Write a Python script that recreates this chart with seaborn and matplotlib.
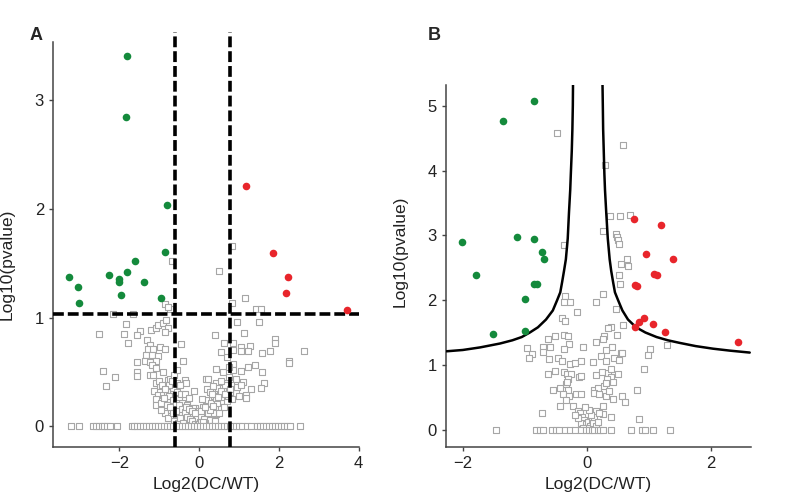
import numpy as np
import pandas as pd
import seaborn as sns
import matplotlib
matplotlib.use("Agg")
import matplotlib.pyplot as plt

# ---------------- data: panel A ----------------
a_down_x = [-1.80, -1.83, -0.80, -0.85, -3.25, -3.03, -3.00, -2.25, -2.00, -2.00,
            -1.80, -1.60, -1.95, -1.38, -0.95]
a_down_y = [3.40, 2.84, 2.03, 1.60, 1.37, 1.28, 1.13, 1.39, 1.35, 1.33,
            1.42, 1.52, 1.21, 1.33, 1.18]
a_up_x = [1.17, 1.84, 2.23, 2.17, 3.70]
a_up_y = [2.21, 1.59, 1.37, 1.23, 1.07]

a_gray_x = [-0.68, 0.50, 0.83, 0.83, 1.15, -0.86, -0.73, 1.43, 1.54, 1.50, 0.96,
            -2.52, -2.17, -1.83, -1.65, -1.88, -1.77, -1.48, -1.55, -1.21, -1.08, -1.02,
            -0.90, -0.82, -0.77, -0.86, -0.77,
            -1.30, -1.23, -1.27, -1.15, -0.98, -0.86, -1.32, -1.19, -1.03, -1.36, -1.23,
            -1.07, -1.19, -1.08, -1.55, -1.55, -1.55, -1.23, -1.15, -0.90, -2.42, -2.11,
            -2.33, -0.79, -0.72, -1.08, -0.98, -0.86, -1.13, -1.02, -0.90, -1.08, -1.08,
            -0.90, -0.82, -0.86, -0.73, -0.40, -0.46, -0.36, -0.32, -0.13, -0.11, 0.18, 0.20,
            1.13, 0.39, 0.63, 0.85, 1.04, 1.27, 0.54, 0.69, 0.84, 1.04, 1.23, 1.58, 1.78,
            1.89, 1.89, 2.25, 2.25, 2.63, 0.43, 0.60, 0.85, 1.04, 1.23, 1.39, 1.58, 0.23,
            0.43, 0.93, 1.10, 1.62, 1.56, 1.29, 1.17, 1.17, 0.93, 0.77, 0.60, 0.48, 0.35,
            0.27, 0.18, 0.10, -0.03, -0.15, 0.14, 0.43, 0.56, 0.69,
            -0.70, -0.65, -0.60, -0.55, -0.50, -0.45, -0.62, -0.52, -0.42, -0.38, -0.30,
            -0.28, -0.20, -0.22, -0.12, -0.08, -0.05, 0.02, 0.05, -0.70, -0.58, -0.48,
            -0.40, -0.33, -0.15, -0.75, -0.68, -0.56, -0.47, -0.35, -0.25, -0.78, -0.64,
            -0.54, -0.95, -0.96, -0.80, -0.62, -0.55, 0.08, 0.30, 0.38, 0.45, 0.52, 0.60,
            0.68, 0.75, 0.80, 0.72, 0.62, 0.50, 0.35, 0.25, 0.15, 0.40, 0.86, 0.75, 0.82,
            0.95, 1.05, 1.00,
            -1.00, -0.92, -0.85, -0.76, -0.66, -0.58, -0.50, -0.44, -0.36, -0.30, -0.24,
            -0.18, -0.10, -0.04, 0.00, 0.06, 0.12, 0.22, 0.28, 0.36, 0.42, 0.48, 0.55,
            0.64, -0.88, -0.80, -0.72, -0.66, -0.58, -0.48, -0.40, -0.34, -0.26, -0.18,
            -0.10, 0.04, 0.10, 0.16, 0.32, 0.56, 0.66, 0.78]
a_gray_y = [1.52, 1.43, 1.66, 1.13, 1.18, 1.12, 1.08, 1.08, 1.08, 0.96, 0.96,
            0.85, 1.03, 0.94, 1.03, 0.85, 0.77, 0.88, 0.84, 0.89, 0.90, 0.93,
            0.95, 0.98, 0.90, 0.87, 1.10,
            0.79, 0.75, 0.71, 0.71, 0.73, 0.71, 0.66, 0.66, 0.65, 0.60, 0.59,
            0.60, 0.56, 0.54, 0.59, 0.50, 0.46, 0.47, 0.47, 0.50, 0.51, 0.45,
            0.37, 0.43, 0.44, 0.40, 0.37, 0.36, 0.33, 0.29, 0.29, 0.25, 0.20,
            0.21, 0.17, 0.12, 0.24, 0.60, 0.76, 0.43, 0.40, 0.33, 0.17, 0.44, 0.34,
            0.86, 0.84, 0.77, 0.77, 0.73, 0.74, 0.68, 0.64, 0.70, 0.69, 0.69, 0.67, 0.69,
            0.80, 0.77, 0.60, 0.58, 0.69, 0.53, 0.50, 0.57, 0.51, 0.55, 0.56, 0.50, 0.44,
            0.40, 0.44, 0.41, 0.40, 0.35, 0.34, 0.29, 0.26, 0.31, 0.32, 0.27, 0.35, 0.37,
            0.32, 0.24, 0.18, 0.14, 0.17, 0.09, 0.11, 0.18, 0.23,
            0.30, 0.35, 0.28, 0.32, 0.25, 0.30, 0.20, 0.18, 0.22, 0.15, 0.20,
            0.12, 0.10, 0.05, 0.06, 0.03, 0.08, 0.04, 0.10, 0.15, 0.10, 0.12,
            0.08, 0.05, 0.02, 0.38, 0.42, 0.40, 0.38, 0.30, 0.26, 0.08, 0.05,
            0.03, 0.22, 0.15, 0.32, 0.47, 0.52, 0.25, 0.22, 0.28, 0.22, 0.30, 0.35,
            0.40, 0.45, 0.38, 0.28, 0.18, 0.12, 0.12, 0.06, 0.03, 0.05, 0.52, 0.55, 0.25,
            0.36, 0.38, 0.28,
            0.42, 0.38, 0.34, 0.28, 0.24, 0.22, 0.20, 0.16, 0.13, 0.09, 0.07,
            0.05, 0.02, 0.01, 0.02, 0.04, 0.07, 0.12, 0.15, 0.19, 0.26, 0.27, 0.33,
            0.38, 0.26, 0.20, 0.18, 0.12, 0.14, 0.08, 0.03, 0.18, 0.16, 0.14,
            0.12, 0.14, 0.04, 0.18, 0.30, 0.42, 0.30, 0.34]
a_zero_x = [-3.22, -3.00, -2.66, -2.58, -2.50, -2.44, -2.38, -2.30, -2.23, -2.05,
            -1.69, -1.62, -1.55, -1.47, -1.40, -1.33, -1.25, -1.18, -1.10, -1.02,
            -0.95, -0.88, -0.80, -0.72, -0.65, -0.58, -0.50, -0.43, -0.35, -0.28,
            -0.20, -0.12, -0.05, 0.03, 0.10, 0.18, 0.25, 0.33, 0.40, 0.48, 0.55,
            0.62, 0.70, 0.78, 0.85, 0.93, 1.00, 1.08, 1.20, 1.30, 1.45, 1.52, 1.60,
            1.68, 1.75, 1.82, 1.90, 1.97, 2.05, 2.12, 2.20, 2.27, 2.52]
a_fc_lo, a_fc_hi, a_p_cut = -0.60, 0.78, 1.03

# ---------------- data: panel B ----------------
b_down_x = [-0.85, -1.35, -2.02, -1.13, -0.85, -0.72, -0.69, -1.78, -0.85, -0.81,
            -1.00, -1.52, -1.00]
b_down_y = [5.08, 4.77, 2.90, 2.98, 2.95, 2.75, 2.63, 2.38, 2.25, 2.25,
            2.02, 1.48, 1.52]
b_up_x = [0.76, 1.19, 0.95, 1.39, 1.08, 1.13, 0.78, 0.80, 0.83, 0.91, 1.06, 1.26,
          0.77, 2.43]
b_up_y = [3.25, 3.16, 2.71, 2.64, 2.40, 2.38, 2.24, 2.22, 1.66, 1.72, 1.63, 1.50,
          1.59, 1.36]

b_gray_x = [-0.49, 0.585, 0.29, 0.365, 0.525, 0.70, 0.26, 0.47, 0.49, 0.50, 0.51,
            -0.37, 0.64, 0.55, 0.66, 0.51, 0.53, 0.25, 0.14, -0.36, -0.27, -0.37,
            -0.16, -0.40, -0.36, 0.47, 0.58, 0.39, 0.34, 0.49, 0.28, 0.26, 0.15,
            -0.37, -0.31, -0.51, -0.62, -0.29, -0.60, -0.71, -0.96, -0.37, -0.06,
            0.40, 0.30, 0.55, 0.57, 1.01, 0.99, 1.29, -0.89, -0.94, -0.71, -0.61,
            -0.47, -0.40, -0.27, -0.20, -0.10, 0.09, 0.23, 0.31, 0.43, 0.51, 0.92,
            -0.62, -0.52, -0.37, -0.32, -0.26, -0.13, -0.09, 0.15, 0.24, 0.34, 0.39,
            0.50, 0.38, -0.31, -0.33, -0.31, -0.44, -0.55, -0.39, -0.29, -0.18,
            -0.09, 0.12, 0.18, 0.28, 0.42, 0.11, 0.19, 0.31, 0.42, 0.57, 0.61, 0.81,
            -0.44, -0.33, -0.23, -0.72, -0.15, 0.26, 0.15, 0.26, 0.38, 0.83, 0.33,
            0.30, -0.32, 0.36,
            -0.12, -0.08, -0.05, -0.10, -0.02, 0.02, 0.05, 0.08, 0.10, 0.12, 0.00,
            -0.06, 0.06, -0.15, 0.14, 0.18, -0.20, 0.20, 0.03, -0.03]
b_gray_y = [4.58, 4.39, 4.08, 3.30, 3.30, 3.31, 3.06, 3.02, 2.97, 2.93, 2.87,
            2.85, 2.63, 2.55, 2.53, 2.39, 2.25, 2.09, 1.97, 2.06, 1.97, 1.97,
            1.81, 1.73, 1.67, 1.86, 1.62, 1.59, 1.57, 1.46, 1.44, 1.40, 1.36,
            1.46, 1.45, 1.44, 1.40, 1.33, 1.27, 1.28, 1.26, 1.24, 1.27,
            1.28, 1.23, 1.19, 1.18, 1.25, 1.16, 1.30, 1.17, 1.10, 1.20, 1.09,
            1.11, 1.06, 1.02, 1.03, 1.06, 1.05, 1.13, 1.06, 1.10, 1.08, 0.93,
            0.86, 0.91, 0.89, 0.86, 0.86, 0.82, 0.83, 0.84, 0.89, 0.88, 0.93,
            0.86, 0.81, 0.78, 0.70, 0.62, 0.65, 0.61, 0.55, 0.52, 0.55,
            0.55, 0.62, 0.65, 0.68, 0.73, 0.56, 0.55, 0.52, 0.47, 0.52, 0.43, 0.62,
            0.36, 0.46, 0.37, 0.25, 0.29, 0.37, 0.29, 0.24, 0.20, 0.17, 0.78,
            0.72, 0.74, 0.60,
            0.25, 0.20, 0.15, 0.10, 0.08, 0.12, 0.05, 0.15, 0.10, 0.20, 0.03,
            0.02, 0.22, 0.18, 0.05, 0.12, 0.22, 0.25, 0.30, 0.35]
b_zero_x = [-1.47, -0.82, -0.76, -0.71, -0.56, -0.50, -0.45, -0.36, -0.28, -0.20,
            -0.09, -0.02, 0.03, 0.08, 0.12, 0.17, 0.21, 0.26, 0.39, 0.71, 0.89, 0.94,
            1.06, 1.33]

# significance boundary
b_left_x = [-2.26, -2.00, -1.72, -1.40, -1.20, -1.05, -0.92, -0.79, -0.66, -0.55,
            -0.48, -0.43, -0.40, -0.37, -0.34, -0.31, -0.29, -0.27, -0.26, -0.245,
            -0.235, -0.228, -0.225]
b_left_y = [1.21, 1.23, 1.27, 1.33, 1.38, 1.43, 1.50, 1.58, 1.70, 1.84,
            2.00, 2.12, 2.28, 2.45, 2.63, 2.95, 3.35, 3.70, 3.95, 4.30,
            4.64, 5.00, 5.32]
b_right_x = [2.62, 2.30, 2.03, 1.75, 1.49, 1.30, 1.12, 0.94, 0.79, 0.66,
             0.57, 0.50, 0.45, 0.42, 0.39, 0.365, 0.335, 0.31, 0.29, 0.28,
             0.27, 0.26, 0.255, 0.25]
b_right_y = [1.19, 1.22, 1.25, 1.29, 1.34, 1.38, 1.43, 1.50, 1.58, 1.70,
             1.84, 2.00, 2.12, 2.28, 2.45, 2.63, 2.95, 3.35, 3.70, 3.95,
             4.30, 4.64, 5.00, 5.32]

GREEN = "#148a3c"
RED = "#e8252b"
GRAY = "#a6a6a6"

sns.set_style("ticks")
plt.rcParams["font.family"] = ["Liberation Sans", "DejaVu Sans"]

fig = plt.figure(figsize=(7.94, 5.03), dpi=100)
axA = fig.add_axes([0.0668, 0.111, 0.385, 0.825])
axB = fig.add_axes([0.5617, 0.111, 0.3841, 0.720])


def draw_points(ax, gx, gy, zx, dx, dy, ux, uy):
    gray = pd.DataFrame({"x": list(gx) + list(zx),
                         "y": list(gy) + [0.0] * len(zx)})
    sns.scatterplot(data=gray, x="x", y="y", ax=ax, marker="s", s=14,
                    facecolor="white", edgecolor=GRAY, linewidth=0.8, zorder=2)
    sns.scatterplot(x=dx, y=dy, ax=ax, color=GREEN, s=30, linewidth=0, zorder=4)
    sns.scatterplot(x=ux, y=uy, ax=ax, color=RED, s=30, linewidth=0, zorder=4)


def style_axis(ax):
    for side in ["top", "right"]:
        ax.spines[side].set_visible(False)
    for side in ["left", "bottom"]:
        ax.spines[side].set_color("#444444")
        ax.spines[side].set_linewidth(1.1)
    ax.tick_params(axis="both", labelsize=12, colors="#444444", labelcolor="#222222",
                   length=3, width=1)
    ax.set_xlabel("Log2(DC/WT)", fontsize=12.5, color="#222222", labelpad=4)
    ax.set_ylabel("Log10(pvalue)", fontsize=12.5, color="#222222")


# ---- panel A ----
draw_points(axA, a_gray_x, a_gray_y, a_zero_x, a_down_x, a_down_y, a_up_x, a_up_y)
for xv in [a_fc_lo, a_fc_hi]:
    axA.axvline(xv, color="black", lw=2.6, dashes=(3, 1.1), zorder=3)
axA.axhline(a_p_cut, color="black", lw=2.6, dashes=(3, 1.1), zorder=3)
axA.set_xlim(-3.66, 4.0)
axA.set_ylim(-0.19, 3.62)
axA.spines["left"].set_bounds(-0.19, 3.53)
axA.set_xticks([-2, 0, 2, 4])
axA.set_yticks([0, 1, 2, 3])
style_axis(axA)
axA.yaxis.set_label_coords(-0.125, 0.44)

# ---- panel B ----
draw_points(axB, b_gray_x, b_gray_y, b_zero_x, b_down_x, b_down_y, b_up_x, b_up_y)
curve_l = pd.DataFrame({"x": b_left_x, "y": b_left_y})
curve_r = pd.DataFrame({"x": b_right_x, "y": b_right_y})
for cv in [curve_l, curve_r]:
    sns.lineplot(data=cv, x="x", y="y", sort=False, estimator=None, ax=axB,
                 color="black", lw=1.8, zorder=3)
axB.set_xlim(-2.27, 2.64)
axB.set_ylim(-0.27, 5.32)
axB.set_xticks([-2, 0, 2])
axB.set_yticks([0, 1, 2, 3, 4, 5])
style_axis(axB)
axB.yaxis.set_label_coords(-0.125, 0.54)

fig.text(30 / 794, 1 - 35 / 503, "A", fontsize=13, fontweight="bold", ha="left", va="center")
fig.text(428 / 794, 1 - 35 / 503, "B", fontsize=13, fontweight="bold", ha="left", va="center")

fig.savefig("out.png", dpi=100)
